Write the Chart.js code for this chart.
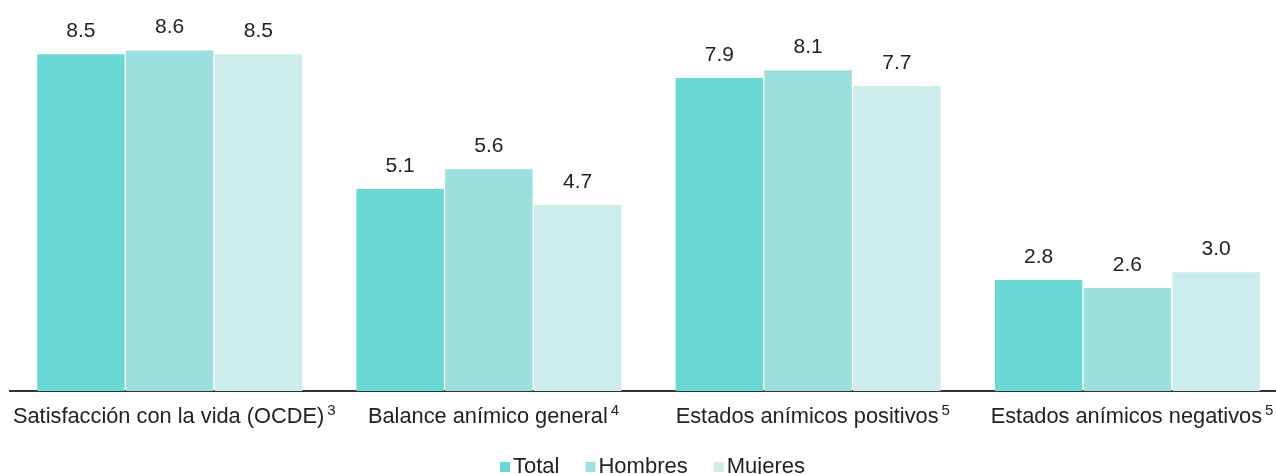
<!DOCTYPE html>
<html>
<head>
<meta charset="utf-8">
<script src="https://cdn.jsdelivr.net/npm/chart.js@4"></script>
<style>
  html, body { margin:0; padding:0; background:#fff; overflow:hidden; }
  #wrap { width:1290px; height:474px; }
</style>
</head>
<body>
<div id="wrap"><canvas id="c"></canvas></div>
<script>
// DATA
const categories = ["Satisfacción con la vida (OCDE)", "Balance anímico general", "Estados anímicos positivos", "Estados anímicos negativos"];
const notes = ["3", "4", "5", "5"];
const seriesNames = ["Total", "Hombres", "Mujeres"];
const total = [8.5, 5.1, 7.9, 2.8];
const hombres = [8.6, 5.6, 8.1, 2.6];
const mujeres = [8.5, 4.7, 7.7, 3.0];
const colors = ["#6AD8D4", "#9CDFDC", "#CCEDEB"];

const FONT = "'Liberation Sans', Arial, sans-serif";
const TEXT = "#222";

// value labels, category labels with superscript note, legend
const extras = {
  id: "extras",
  afterDatasetsDraw(chart) {
    const ctx = chart.ctx;
    ctx.save();
    ctx.fillStyle = TEXT;
    ctx.textAlign = "center";
    ctx.textBaseline = "alphabetic";
    ctx.font = "21px " + FONT;
    chart.data.datasets.forEach((ds, di) => {
      chart.getDatasetMeta(di).data.forEach((bar, k) => {
        ctx.fillText(ds.data[k].toFixed(1), bar.x, bar.y - 17);
      });
    });

    // category labels
    const xs = chart.scales.x;
    ctx.textAlign = "left";
    categories.forEach((lab, k) => {
      const cx = xs.getPixelForValue(k);
      ctx.font = "21.8px " + FONT;
      const w = ctx.measureText(lab).width;
      const x0 = cx - w / 2 - 1;
      ctx.fillText(lab, x0, 423);
      ctx.font = "15px " + FONT;
      ctx.fillText(notes[k], x0 + w + 3, 415);
    });

    // legend
    ctx.font = "22px " + FONT;
    let x = 500;
    seriesNames.forEach((name, i) => {
      ctx.fillStyle = colors[i];
      ctx.fillRect(x, 462, 10, 10);
      ctx.fillStyle = TEXT;
      ctx.fillText(name, x + 13, 473);
      x += 13 + ctx.measureText(name).width + 26;
    });
    ctx.restore();
  }
};

new Chart(document.getElementById("c"), {
  type: "bar",
  data: {
    labels: categories,
    datasets: seriesNames.map((name, i) => ({
      label: name,
      data: [total, hombres, mujeres][i],
      backgroundColor: colors[i],
      categoryPercentage: 0.834,
      barPercentage: 0.985
    }))
  },
  options: {
    responsive: true,
    maintainAspectRatio: false,
    animation: false,
    layout: { padding: { left: 10, right: 3, top: 10, bottom: 83 } },
    plugins: { legend: { display: false }, tooltip: { enabled: false } },
    scales: {
      x: {
        ticks: { display: false },
        grid: { display: false, drawTicks: false },
        border: { display: true, color: "#333", width: 2 }
      },
      y: {
        display: false,
        min: 0,
        max: 9.62
      }
    }
  },
  plugins: [extras]
});
</script>
</body>
</html>
